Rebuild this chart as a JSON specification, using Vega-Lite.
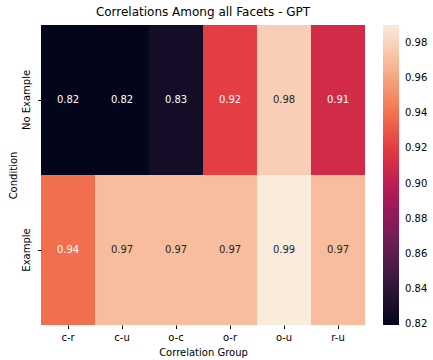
{
  "$schema": "https://vega.github.io/schema/vega-lite/v6.json",
  "width": 324,
  "height": 300,
  "autosize": {"type": "none"},
  "padding": {"left": 41, "top": 25, "right": 68, "bottom": 35},
  "title": {"text": "Correlations Among all Facets - GPT", "fontSize": 12, "fontWeight": "normal", "font": "DejaVu Sans", "color": "#000000", "offset": 6},
  "config": {
    "font": "DejaVu Sans",
    "view": {"stroke": null},
    "axis": {"labelFont": "DejaVu Sans", "titleFont": "DejaVu Sans", "labelFontSize": 10, "titleFontSize": 10, "titleFontWeight": "normal", "labelColor": "#000000", "titleColor": "#000000", "tickColor": "#000000", "domain": false, "grid": false, "tickSize": 3.5}
  },
  "data": {
    "values": [
      {"Condition": "No Example", "Group": "c-r", "r": 0.8195},
      {"Condition": "No Example", "Group": "c-u", "r": 0.8200},
      {"Condition": "No Example", "Group": "o-c", "r": 0.8285},
      {"Condition": "No Example", "Group": "o-r", "r": 0.921},
      {"Condition": "No Example", "Group": "o-u", "r": 0.978},
      {"Condition": "No Example", "Group": "r-u", "r": 0.910},
      {"Condition": "Example", "Group": "c-r", "r": 0.939},
      {"Condition": "Example", "Group": "c-u", "r": 0.970},
      {"Condition": "Example", "Group": "o-c", "r": 0.970},
      {"Condition": "Example", "Group": "o-r", "r": 0.970},
      {"Condition": "Example", "Group": "o-u", "r": 0.9903},
      {"Condition": "Example", "Group": "r-u", "r": 0.970}
    ]
  },
  "encoding": {
    "x": {"field": "Group", "type": "nominal", "title": "Correlation Group", "sort": ["c-r", "c-u", "o-c", "o-r", "o-u", "r-u"], "scale": {"paddingInner": 0, "paddingOuter": 0}, "axis": {"labelAngle": 0, "labelPadding": 4, "titlePadding": 5}},
    "y": {"field": "Condition", "type": "nominal", "title": "Condition", "sort": ["No Example", "Example"], "scale": {"paddingInner": 0, "paddingOuter": 0}, "axis": {"labelAngle": -90, "labelAlign": "center", "labelBaseline": "bottom", "labelPadding": 6, "titlePadding": 3}}
  },
  "layer": [
    {
      "mark": {"type": "rect"},
      "encoding": {
        "color": {
          "field": "r", "type": "quantitative",
          "scale": {
            "domain": [0.8195, 0.8439, 0.8683, 0.8927, 0.9171, 0.9415, 0.9659, 0.9903],
            "range": ["#03051a", "#35193e", "#701f57", "#ad1759", "#e13342", "#f37651", "#f6b48f", "#faebdd"],
            "interpolate": "rgb"
          },
          "legend": {"title": null, "orient": "none", "legendX": 342, "legendY": 0, "direction": "vertical", "gradientLength": 300, "gradientThickness": 16, "gradientStrokeWidth": 0, "padding": 0, "values": [0.82, 0.84, 0.86, 0.88, 0.9, 0.92, 0.94, 0.96, 0.98], "format": ".2f", "labelFont": "DejaVu Sans", "labelFontSize": 10, "labelColor": "#000000", "labelOffset": 6}
        }
      }
    },
    {
      "mark": {"type": "text", "fontSize": 10, "font": "DejaVu Sans"},
      "encoding": {
        "text": {"field": "r", "type": "quantitative", "format": ".2f"},
        "color": {"condition": {"test": "datum.r >= 0.96", "value": "#262626"}, "value": "#ffffff"}
      }
    }
  ]
}
